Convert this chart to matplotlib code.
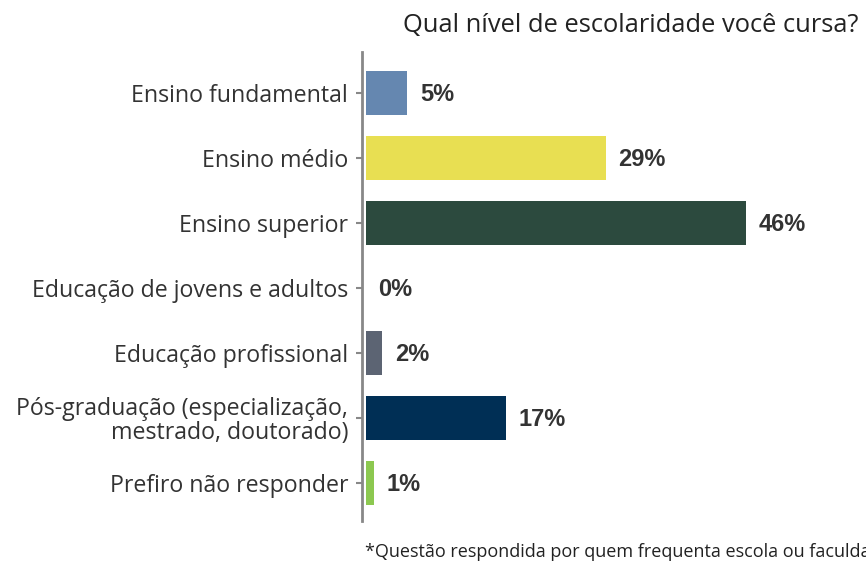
import matplotlib
matplotlib.use("Agg")
import matplotlib.pyplot as plt

categories = ["Ensino fundamental", "Ensino médio", "Ensino superior",
              "Educação de jovens e adultos", "Educação profissional",
              "Pós-graduação (especialização,\nmestrado, doutorado)",
              "Prefiro não responder"]
values = [5, 29, 46, 0, 2, 17, 1]
labels = ["5%", "29%", "46%", "0%", "2%", "17%", "1%"]
colors = ["#6587B0", "#E8DF52", "#2C4A3E", "#FFFFFF", "#5C6473", "#002F55", "#8CC850"]
title = "Qual nível de escolaridade você cursa?"
footnote = "*Questão respondida por quem frequenta escola ou faculdade"

W, H = 866, 563
fig = plt.figure(figsize=(W/100, H/100), dpi=100)
ax = fig.add_axes([362/W, 1-521/H, 1-362/W, (521-52)/H])

ypos = list(range(len(categories)))
ax.barh(ypos, values, height=0.69, color=colors, left=0)
ax.set_xlim(-0.48, 60.5)
ax.set_ylim(len(categories)-1+0.585, -0.63)

for y, v, lab in zip(ypos, values, labels):
    ax.annotate(lab, (v, y), xytext=(9, -1), textcoords="offset points",
                ha="left", va="center", fontsize=17, fontweight="bold",
                color="#333333", family="Liberation Sans")

ax.set_yticks(ypos)
ax.set_yticklabels(categories, fontsize=16.7, family="Open Sans", color="#333333",
                   linespacing=1.0)
ax.tick_params(axis="y", length=4.5, width=1.5, color="#888888", pad=5.5)
ax.set_xticks([])
for s in ["top", "right", "bottom"]:
    ax.spines[s].set_visible(False)
ax.spines["left"].set_color("#888888")
ax.spines["left"].set_linewidth(2)

fig.text(403/W, 1-26/H, title, fontsize=18.4, family="Open Sans",
         color="#222222", ha="left", va="center")
fig.text(365/W, 1-552/H, footnote, fontsize=13, family="Open Sans",
         color="#222222", ha="left", va="center")

fig.savefig("out.png", dpi=100)
